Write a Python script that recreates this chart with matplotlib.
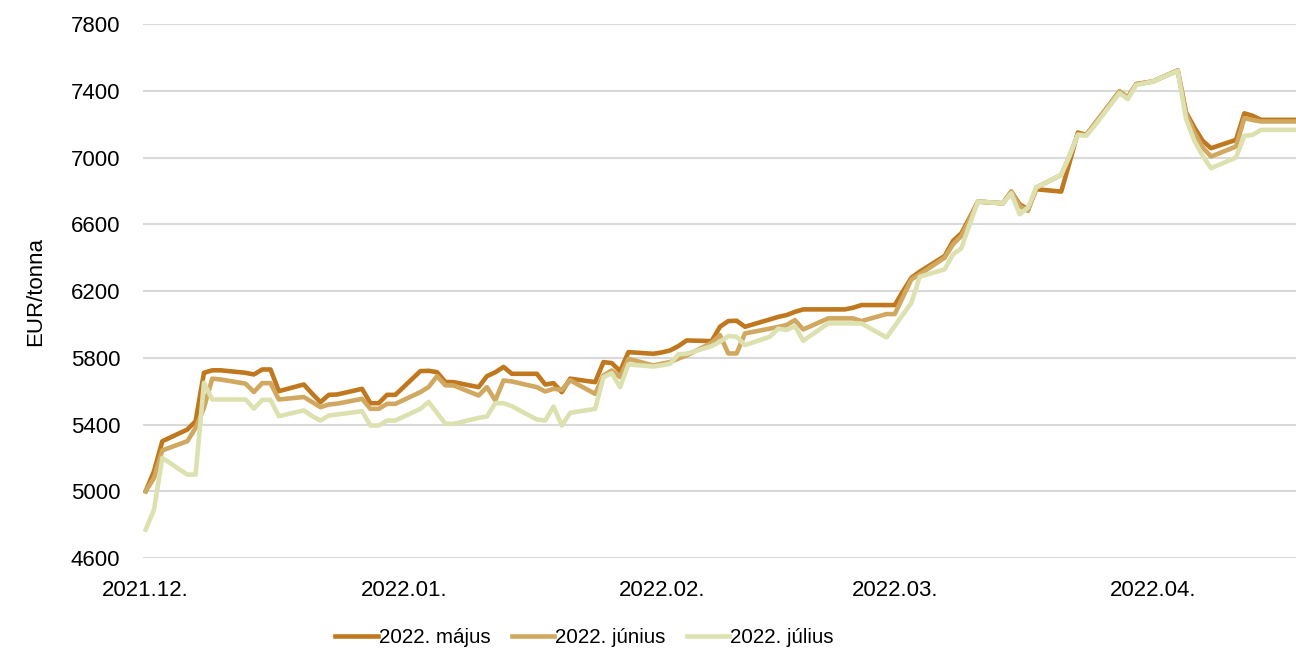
import pandas as pd
import matplotlib.pyplot as plt
import matplotlib.dates as mdates

plt.rcParams['font.family'] = ['Liberation Sans', 'DejaVu Sans']

# Data: daily (business day) prices, EUR/tonna
dates = pd.bdate_range('2021-12-01', '2022-04-18')

majus = [
    # Dec
    5000, 5120, 5300, 5370, 5420, 5710, 5725, 5725, 5710, 5700, 5730, 5730, 5600,
    5640, 5585, 5534, 5578, 5580, 5614, 5528, 5528, 5578, 5578,
    # Jan
    5720, 5722, 5714, 5655, 5654, 5624, 5690, 5713, 5745, 5704, 5704, 5640, 5648,
    5594, 5675, 5654, 5774, 5768, 5720, 5834, 5824,
    # Feb
    5832, 5844, 5870, 5904, 5900, 5986, 6020, 6022, 5986, 6030, 6045, 6056, 6075,
    6090, 6090, 6090, 6090, 6100, 6116, 6116,
    # Mar
    6116, 6200, 6280, 6316, 6410, 6500, 6546, 6640, 6736, 6726, 6796, 6720, 6690,
    6810, 6796, 6970, 7150, 7136, 7200, 7396, 7360, 7440, 7448,
    # Apr
    7456, 7522, 7270, 7180, 7100, 7056, 7106, 7265, 7250, 7226, 7226, 7226,
]

junius = [
    5000, 5080, 5245, 5300, 5380, 5500, 5675, 5670, 5645, 5595, 5648, 5648, 5550,
    5565, 5535, 5504, 5520, 5525, 5554, 5494, 5494, 5524, 5524,
    5594, 5625, 5690, 5635, 5634, 5574, 5624, 5545, 5664, 5658, 5624, 5598, 5614,
    5608, 5665, 5584, 5694, 5724, 5684, 5794, 5754,
    5765, 5774, 5795, 5814, 5890, 5936, 5826, 5826, 5946, 5975, 5985, 5996, 6026,
    5970, 6036, 6036, 6036, 6036, 6020, 6062,
    6062, 6166, 6270, 6300, 6400, 6480, 6530, 6630, 6736, 6726, 6796, 6710, 6680,
    6820, 6896, 7010, 7140, 7135, 7200, 7396, 7360, 7440, 7448,
    7456, 7522, 7260, 7150, 7060, 7006, 7066, 7236, 7225, 7216, 7216, 7216,
]

julius = [
    4770, 4890, 5200, 5100, 5100, 5650, 5550, 5550, 5550, 5495, 5548, 5548, 5450,
    5485, 5450, 5424, 5454, 5460, 5480, 5394, 5394, 5424, 5424,
    5494, 5535, 5470, 5405, 5404, 5440, 5448, 5528, 5528, 5510, 5430, 5424, 5508,
    5394, 5470, 5494, 5684, 5708, 5624, 5760, 5748,
    5755, 5764, 5820, 5824, 5870, 5896, 5930, 5926, 5876, 5926, 5975, 5966, 5990,
    5902, 6006, 6006, 6006, 6006, 6006, 5922,
    5990, 6060, 6130, 6286, 6330, 6420, 6456, 6600, 6736, 6726, 6786, 6660, 6700,
    6820, 6896, 7010, 7136, 7130, 7190, 7386, 7350, 7435, 7445,
    7456, 7520, 7230, 7100, 7010, 6936, 7000, 7130, 7136, 7166, 7166, 7166,
]

series_names = ['2022. május', '2022. június', '2022. július']
colors = ['#C0781F', '#D0A860', '#DDE1B0']

fig = plt.figure(figsize=(12.96, 6.5), dpi=100)
ax = fig.add_axes([0.110, 0.1415, 0.890, 0.8215])

for vals, name, c in zip([majus, junius, julius], series_names, colors):
    ax.plot(dates, vals, color=c, lw=3.3, label=name)

ax.set_ylim(4600, 7800)
ax.set_yticks(range(4600, 7801, 400))
ax.set_xlim(pd.Timestamp('2021-12-01') - pd.Timedelta(hours=9),
            pd.Timestamp('2022-04-18') + pd.Timedelta(hours=5))
ax.xaxis.set_major_locator(mdates.MonthLocator())
ax.xaxis.set_major_formatter(mdates.DateFormatter('%Y.%m.'))

ax.grid(True, axis='y', color='#d9d9d9', linewidth=1.5)
ax.set_axisbelow(True)
for s in ax.spines.values():
    s.set_visible(False)
ax.tick_params(axis='both', length=0, labelsize=16, colors='black')
ax.tick_params(axis='y', pad=16)
ax.tick_params(axis='x', pad=16)
ax.set_ylabel('EUR/tonna', fontsize=16, labelpad=18)

ax.legend(loc='center', bbox_to_anchor=(0.451, 0.019), bbox_transform=fig.transFigure,
          ncol=3, frameon=False, fontsize=14.8, handlelength=2.05,
          handletextpad=0.05, columnspacing=1.05)

plt.savefig('out.png', dpi=100)
